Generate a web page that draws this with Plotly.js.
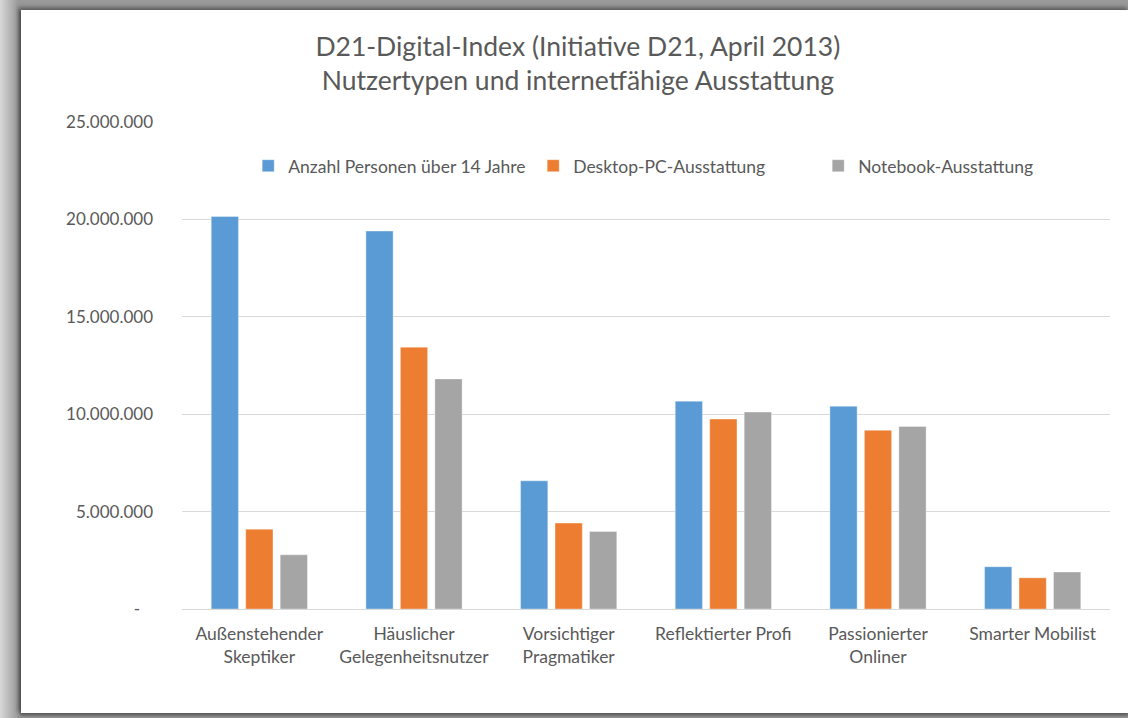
<!DOCTYPE html>
<html>
<head>
<meta charset="utf-8">
<script src="https://cdn.plot.ly/plotly-3.0.1.min.js"></script>
<style>
  html, body { margin: 0; padding: 0; background: #ffffff; width: 1128px; height: 718px; overflow: hidden; }
  #frame { position: absolute; left: 0; top: 0; width: 1128px; height: 718px; background: linear-gradient(90deg, #d8d8d8 0px, #9a9a9a 18px, #9a9a9a 100%); }
  #chart { position: absolute; left: 21px; top: 10px; width: 1107px; height: 703px; background: #fff; box-shadow: -2px -2px 4px 1px rgba(0,0,0,0.35), 0 2px 3px 1px rgba(0,0,0,0.35); }
</style>
</head>
<body>
<div id="frame"></div>
<div id="chart"></div>
<script>
const categories = [
  "Außenstehender<br>Skeptiker",
  "Häuslicher<br>Gelegenheitsnutzer",
  "Vorsichtiger<br>Pragmatiker",
  "Reflektierter Profi",
  "Passionierter<br>Onliner",
  "Smarter Mobilist"
];
const seriesNames = ["Anzahl Personen über 14 Jahre", "Desktop-PC-Ausstattung", "Notebook-Ausstattung"];
const personen = [20150000, 19400000, 6580000, 10670000, 10410000, 2170000];
const desktop  = [4100000, 13440000, 4410000, 9750000, 9170000, 1600000];
const notebook = [2780000, 11810000, 3980000, 10110000, 9370000, 1900000];
const tickVals = [0, 5000000, 10000000, 15000000, 20000000, 25000000];
const tickText = ["-\u00a0\u00a0\u00a0", "5.000.000", "10.000.000", "15.000.000", "20.000.000", "25.000.000"];
const colors = ["#5B9BD5", "#ED7D31", "#A5A5A5"];
const values = [personen, desktop, notebook];

const font = "Lato, 'Open Sans', sans-serif";
const traces = values.map((v, i) => ({
  type: "bar",
  name: seriesNames[i],
  x: categories,
  y: v,
  marker: { color: colors[i], line: { color: "rgba(255,255,255,0.35)", width: 1 } },
  hoverinfo: "x+y+name"
}));

const layout = {
  width: 1107,
  height: 703,
  margin: { l: 161, r: 18, t: 112, b: 104 },
  paper_bgcolor: "#ffffff",
  plot_bgcolor: "#ffffff",
  font: { family: font, color: "#595959" },
  title: {
    text: "D21-Digital-Index (Initiative D21, April 2013)<br>Nutzertypen und internetfähige Ausstattung",
    font: { family: font, size: 26.5, color: "#595959" },
    x: 0.503, xanchor: "center",
    y: 0.935, yanchor: "top", yref: "container"
  },
  barmode: "group",
  bargap: 0.331,
  bargroupgap: 0.21,
  showlegend: true,
  legend: {
    orientation: "h",
    x: 0.532, xanchor: "center",
    y: 0.91, yanchor: "middle",
    bgcolor: "rgba(0,0,0,0)",
    font: { family: font, size: 17.5, color: "#595959" },
    entrywidth: 240, entrywidthmode: "pixels", itemwidth: 30
  },
  xaxis: {
    type: "category",
    tickfont: { family: font, size: 17.5, color: "#595959" },
    showgrid: false,
    showline: true,
    linecolor: "#D9D9D9",
    linewidth: 1,
    ticks: "",
    ticklabelstandoff: 9
  },
  yaxis: {
    range: [0, 25000000],
    tickvals: tickVals,
    ticktext: tickText,
    tickfont: { family: font, size: 17, color: "#595959" },
    showgrid: true,
    gridcolor: "#D9D9D9",
    gridwidth: 1,
    zeroline: false,
    showline: false,
    ticks: "",
    ticklabelstandoff: 28
  }
};

Plotly.newPlot("chart", traces, layout, { displayModeBar: false });
</script>
</body>
</html>
